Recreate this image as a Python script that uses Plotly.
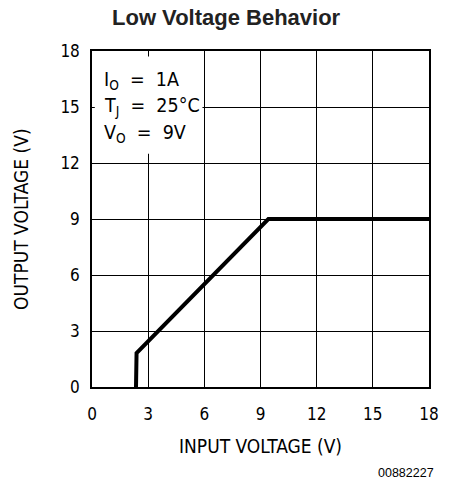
import plotly.graph_objects as go

# Data
vin = [2.35, 2.38, 9.42, 18.0]
vout = [0.0, 1.82, 9.0, 9.0]
x_ticks = [0, 3, 6, 9, 12, 15, 18]
y_ticks = [0, 3, 6, 9, 12, 15, 18]
cond_lines = ["I<sub>O</sub>  =  1A", "T<sub>J</sub>  =  25°C", "V<sub>O</sub>  =  9V"]

COND = "DejaVu Sans Condensed"
SANS = "Liberation Sans"

fig = go.Figure()
fig.add_trace(go.Scatter(x=vin, y=vout, mode="lines",
                         line=dict(color="black", width=4), showlegend=False,
                         hoverinfo="skip"))

# white box behind condition text (covers gridlines)
fig.add_shape(type="rect", xref="x", yref="y", x0=0.15, x1=5.9, y0=12.5, y1=17.7,
              fillcolor="white", line=dict(width=0), layer="between")

for i, t in enumerate(cond_lines):
    fig.add_annotation(x=0, y=1, xref="paper", yref="paper", xanchor="left", yanchor="middle",
                       xshift=10, yshift=-(29 + 26.5 * i), showarrow=False, align="left",
                       text=t, font=dict(family=COND, size=19.5, color="black"))

# axis titles
fig.add_annotation(x=0.5, y=0, xref="paper", yref="paper", xanchor="center", yanchor="middle",
                   yshift=-59, showarrow=False, text="INPUT VOLTAGE (V)",
                   font=dict(family=COND, size=19, color="black"))
fig.add_annotation(x=0, y=0.5, xref="paper", yref="paper", xanchor="center", yanchor="middle",
                   xshift=-71, showarrow=False, text="OUTPUT VOLTAGE (V)", textangle=-90,
                   font=dict(family=COND, size=19, color="black"))
# title
fig.add_annotation(x=0, y=1, xref="paper", yref="paper", xanchor="center", yanchor="middle",
                   xshift=226.5 - 92, yshift=51 - 17.5, showarrow=False,
                   text="<b>Low Voltage Behavior</b>",
                   font=dict(family=SANS, size=22, color="#222222"))
# footnote
fig.add_annotation(x=1, y=0, xref="paper", yref="paper", xanchor="right", yanchor="middle",
                   xshift=436 - 429, yshift=-(473 - 387), showarrow=False, text="00882227",
                   font=dict(family=SANS, size=12.5, color="black"))

axis_common = dict(showgrid=True, gridcolor="black", gridwidth=1.3,
                   showline=True, linecolor="black", linewidth=1.5, mirror=True,
                   ticks="", zeroline=False,
                   tickfont=dict(family=COND, size=17, color="black"))

fig.update_layout(
    width=461, height=488,
    margin=dict(l=92, r=32, t=51, b=101),
    paper_bgcolor="white", plot_bgcolor="white",
    xaxis=dict(range=[0, 18], tickvals=x_ticks, ticktext=[str(v) for v in x_ticks],
               ticklabelstandoff=11, **axis_common),
    yaxis=dict(range=[0, 18], tickvals=y_ticks, ticktext=[str(v) for v in y_ticks],
               ticklabelstandoff=7, **axis_common),
)

fig.write_html("out.html", config={"displayModeBar": False},
               post_script="document.body.style.margin='0';")
